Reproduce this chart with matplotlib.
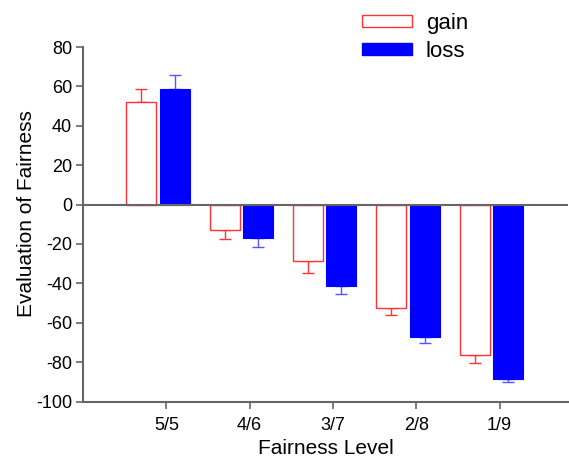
import matplotlib
matplotlib.use("Agg")
import matplotlib.pyplot as plt
import numpy as np
from matplotlib.patches import Patch

plt.rcParams['font.family'] = ['Liberation Sans', 'DejaVu Sans']
plt.rcParams['axes.unicode_minus'] = False

categories = ["5/5", "4/6", "3/7", "2/8", "1/9"]
gain = [52.2, -12.7, -28.7, -52.5, -76.6]
loss = [58.8, -16.9, -41.4, -67.1, -88.5]
gain_err = [6.4, 4.8, 5.8, 3.6, 3.6]
loss_err = [6.8, 4.4, 4.2, 3.1, 1.6]
yticks = [80, 60, 40, 20, 0, -20, -40, -60, -80, -100]

fig = plt.figure(figsize=(5.69, 4.59), dpi=100)
ax = fig.add_axes([83/569, 1-401.5/459, (568-83)/569, (401.5-47)/459])

x = np.arange(len(categories))
w = 0.36
red = '#ff3333'
blue = '#0000ff'
ebblue = '#5555ff'

gx = x - 0.30
lx = x + 0.10
ax.bar(gx, gain, width=w, facecolor='white', edgecolor=red, linewidth=1.0, zorder=2)
ax.bar(lx, loss, width=w, facecolor=blue, edgecolor=blue, linewidth=0.8, zorder=2)

g = np.array(gain); l = np.array(loss)
ge = np.array(gain_err); le = np.array(loss_err)
g_low = np.where(g < 0, ge, 0); g_up = np.where(g > 0, ge, 0)
l_low = np.where(l < 0, le, 0); l_up = np.where(l > 0, le, 0)
ax.errorbar(gx, g, yerr=[g_low, g_up], fmt='none', ecolor=red, elinewidth=1.0, capsize=4, capthick=1.0, zorder=1)
ax.errorbar(lx, l, yerr=[l_low, l_up], fmt='none', ecolor=ebblue, elinewidth=1.0, capsize=4, capthick=1.0, zorder=1)

ax.axhline(0, color='#666666', linewidth=1.5, zorder=3)

ax.set_xlim(-1.0, 4.82)
ax.set_ylim(-100, 80)
ax.set_yticks(yticks)
ax.set_xticks(x)
ax.set_xticklabels(categories)
for s in ['top', 'right']:
    ax.spines[s].set_visible(False)
for s in ['left', 'bottom']:
    ax.spines[s].set_color('#666666')
    ax.spines[s].set_linewidth(1.5)
ax.tick_params(axis='both', colors='#666666', labelcolor='black', labelsize=13, length=5, width=1.2)
ax.tick_params(axis='y', pad=3)
ax.tick_params(axis='x', pad=6)
ax.set_xlabel("Fairness Level", fontsize=15, labelpad=4)
ax.set_ylabel("Evaluation of Fairness", fontsize=15)
ax.yaxis.set_label_coords(-0.097, 0.53)

handles = [Patch(facecolor='white', edgecolor=red, linewidth=1.0),
           Patch(facecolor=blue, edgecolor=blue)]
fig.legend(handles, ['gain', 'loss'], loc='upper left', bbox_to_anchor=(349/569, 1.0),
           frameon=False, fontsize=16, handlelength=2.25, handleheight=0.45,
           handletextpad=0.6, labelspacing=0.3, borderaxespad=0.2)

fig.savefig("out.png", dpi=100)
